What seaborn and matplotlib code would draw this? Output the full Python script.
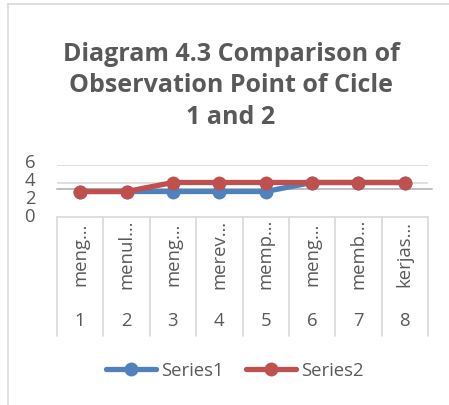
import matplotlib
matplotlib.use("Agg")
import matplotlib.pyplot as plt
from matplotlib.lines import Line2D
import seaborn as sns
import pandas as pd

categories = ["meng…", "menul…", "meng…", "merev…", "memp…", "meng…", "memb…", "kerjas…"]
numbers = ["1", "2", "3", "4", "5", "6", "7", "8"]
series1 = [3, 3, 3, 3, 3, 4, 4, 4]
series2 = [3, 3, 4, 4, 4, 4, 4, 4]
yticks = [0, 2, 4, 6]

sns.set_theme(style="white")
plt.rcParams['font.family'] = ['Open Sans', 'DejaVu Sans']

W, H = 449, 406
fig = plt.figure(figsize=(W / 100, H / 100), dpi=100)
fig.patch.set_facecolor("white")

def px(x0, y0, x1, y1):
    return [x0 / W, 1 - y1 / H, (x1 - x0) / W, (y1 - y0) / H]

gray_txt = "#595959"
grid_col = "#d9d9d9"
blue = "#4F81BD"
red = "#C0504D"
fs = 13.3

# chart border
fig.add_artist(Line2D([8 / W, 8 / W], [0, 1 - 5 / H], color=grid_col, lw=1.2, transform=fig.transFigure))
fig.add_artist(Line2D([8 / W, 1], [1 - 5 / H, 1 - 5 / H], color=grid_col, lw=1.2, transform=fig.transFigure))

# title
fig.text(231 / W, 1 - 86 / H, "Diagram 4.3 Comparison of\nObservation Point of Cicle\n1 and 2",
         ha="center", va="center", fontsize=18, fontweight="bold", color=gray_txt, linespacing=1.32)

# plot area
ax = fig.add_axes(px(57, 165.5, 428, 219.5))
df = pd.DataFrame({
    "x": list(range(8)) * 2,
    "value": series1 + series2,
    "series": ["Series1"] * 8 + ["Series2"] * 8,
})
sns.lineplot(data=df, x="x", y="value", hue="series", palette=[blue, red], marker="o",
             markersize=10, markeredgewidth=0, linewidth=3.8, ax=ax, legend=False)
ax.set_xlim(-0.5, 7.5)
ax.set_ylim(0, 6)
ax.patch.set_alpha(0)
for s in ax.spines.values():
    s.set_visible(False)
for v in [4, 6]:
    ax.axhline(v, color=grid_col, lw=1.2, zorder=0)
ax.plot([-0.5, 7.58], [3.33, 3.33], color="#bfbfbf", lw=1.4, zorder=1, clip_on=False)
ax.set_xticks([])
ax.set_yticks([])
ax.set_xlabel("")
ax.set_ylabel("")
for v in yticks:
    ax.text(-0.97, v + 0.25, str(v), ha="right", va="center", fontsize=fs, color=gray_txt,
            transform=ax.transData, clip_on=False)

# category table
tax = fig.add_axes(px(57, 218, 428, 337))
tax.set_xlim(-0.5, 7.5)
tax.set_ylim(337, 218)
tax.axis("off")
for b in range(9):
    tax.plot([b - 0.5, b - 0.5], [218, 337], color=grid_col, lw=1.2, clip_on=False)
tax.plot([-0.5, 7.5], [218, 218], color=grid_col, lw=1.2, clip_on=False)
for i, (c, n) in enumerate(zip(categories, numbers)):
    tax.text(i, 254, c, rotation=90, ha="center", va="center", fontsize=fs, color=gray_txt)
    tax.text(i, 321, n, ha="center", va="center", fontsize=fs, color=gray_txt)

# legend
handles = [Line2D([], [], color=blue, lw=3.8, marker="o", markersize=10, markeredgewidth=0),
           Line2D([], [], color=red, lw=3.8, marker="o", markersize=10, markeredgewidth=0)]
fig.legend(handles, ["Series1", "Series2"], loc="center", bbox_to_anchor=(235 / W, 1 - 371 / H),
           ncol=2, frameon=False, fontsize=fs, handlelength=2.7, handletextpad=0.3,
           columnspacing=1.2, labelcolor=gray_txt)

fig.savefig("out.png", dpi=100, facecolor="white")
